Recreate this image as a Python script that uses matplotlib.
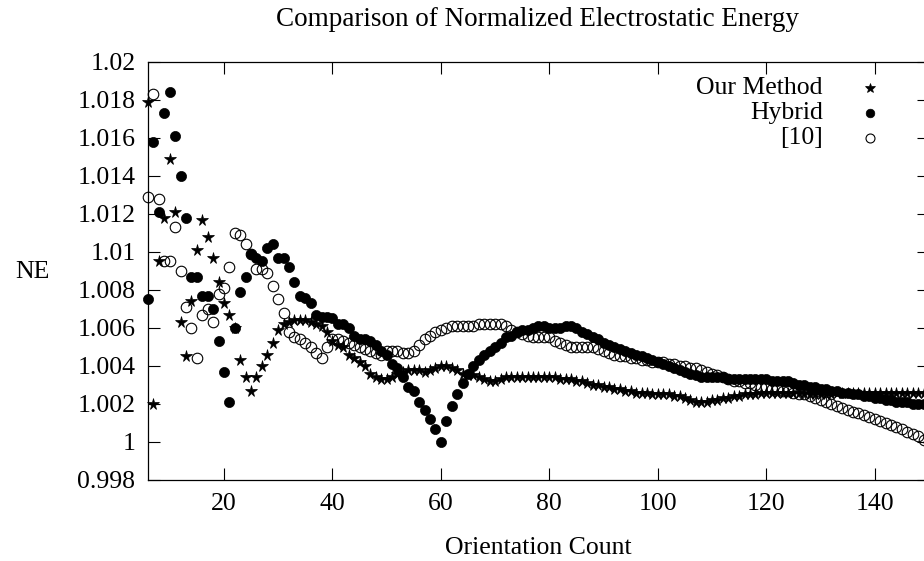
import matplotlib
matplotlib.use('Agg')
import matplotlib.pyplot as plt
from matplotlib.ticker import FuncFormatter

plt.rcParams['font.family'] = ['Liberation Serif', 'DejaVu Serif']

# orientation counts 6..150
counts = list(range(6, 151))

our_method = [
    1.0179, 1.0020, 1.0095, 1.0118, 1.0149, 1.0121, 1.0063, 1.0045, 1.0074, 1.0101,
    1.0117, 1.0108, 1.0097, 1.0084, 1.0073, 1.0067, 1.0060, 1.0043, 1.0034, 1.0027,
    1.0034, 1.0040, 1.0046, 1.0052, 1.0059, 1.0062, 1.0063, 1.0064, 1.0064, 1.0064,
    1.0063, 1.0062, 1.0061, 1.0058, 1.0053, 1.0051, 1.0050, 1.0046, 1.0044, 1.0042,
    1.0040, 1.0036, 1.0034, 1.0033, 1.0033, 1.0034, 1.0036, 1.0037, 1.0038, 1.0038,
    1.0038, 1.0037, 1.0038, 1.0039, 1.0040, 1.0040, 1.0039, 1.0038, 1.0036, 1.0035,
    1.0035, 1.0034, 1.0033, 1.0032, 1.0032, 1.0033, 1.0034, 1.0034, 1.0034, 1.0034,
    1.0034, 1.0034, 1.0034, 1.0034, 1.0034, 1.0034, 1.0033, 1.0033, 1.0033, 1.0032,
    1.0032, 1.0031, 1.0030, 1.0030, 1.0029, 1.0029, 1.0028, 1.0028, 1.0027, 1.0027,
    1.0026, 1.0026, 1.0026, 1.0025, 1.0025, 1.0025, 1.0025, 1.0024, 1.0024, 1.0023,
    1.0022, 1.0021, 1.0021, 1.0021, 1.0022, 1.0022, 1.0023, 1.0023, 1.0024, 1.0024,
    1.0025, 1.0025, 1.0025, 1.0026, 1.0026, 1.0026, 1.0026, 1.0026, 1.0026, 1.0026,
    1.0026, 1.0026, 1.0025, 1.0025, 1.0025, 1.0025, 1.0025, 1.0026, 1.0026, 1.0026,
    1.0026, 1.0026, 1.0026, 1.0026, 1.0026, 1.0026, 1.0026, 1.0026, 1.0026, 1.0026,
    1.0026, 1.0026, 1.0026, 1.0026, 1.0026,
]

hybrid = [
    1.0075, 1.0158, 1.0121, 1.0173, 1.0184, 1.0161, 1.0140, 1.0118, 1.0087, 1.0087,
    1.0077, 1.0077, 1.0070, 1.0053, 1.0037, 1.0021, 1.0060, 1.0079, 1.0087, 1.0099,
    1.0097, 1.0095, 1.0102, 1.0104, 1.0097, 1.0097, 1.0092, 1.0084, 1.0077, 1.0076,
    1.0073, 1.0067, 1.0066, 1.0066, 1.0065, 1.0062, 1.0062, 1.0060, 1.0056, 1.0054,
    1.0054, 1.0053, 1.0051, 1.0048, 1.0046, 1.0041, 1.0039, 1.0034, 1.0029, 1.0027,
    1.0021, 1.0017, 1.0012, 1.0007, 1.0000, 1.0011, 1.0019, 1.0025, 1.0031, 1.0036,
    1.0040, 1.0043, 1.0046, 1.0048, 1.0050, 1.0052, 1.0055, 1.0056, 1.0058, 1.0059,
    1.0059, 1.0060, 1.0061, 1.0061, 1.0060, 1.0060, 1.0060, 1.0061, 1.0061, 1.0060,
    1.0058, 1.0057, 1.0055, 1.0054, 1.0052, 1.0051, 1.0050, 1.0049, 1.0048, 1.0047,
    1.0046, 1.0045, 1.0044, 1.0043, 1.0042, 1.0041, 1.0040, 1.0039, 1.0038, 1.0037,
    1.0036, 1.0035, 1.0034, 1.0034, 1.0034, 1.0034, 1.0034, 1.0033, 1.0033, 1.0033,
    1.0033, 1.0033, 1.0033, 1.0033, 1.0033, 1.0032, 1.0032, 1.0032, 1.0032, 1.0031,
    1.0030, 1.0030, 1.0029, 1.0029, 1.0028, 1.0028, 1.0027, 1.0027, 1.0026, 1.0026,
    1.0025, 1.0025, 1.0024, 1.0024, 1.0023, 1.0023, 1.0022, 1.0022, 1.0021, 1.0021,
    1.0021, 1.0020, 1.0020, 1.0020, 1.0020,
]

ref10 = [
    1.0129, 1.0183, 1.0128, 1.0095, 1.0095, 1.0113, 1.0090, 1.0071, 1.0060, 1.0044,
    1.0067, 1.0070, 1.0063, 1.0078, 1.0081, 1.0092, 1.0110, 1.0109, 1.0104, 1.0099,
    1.0091, 1.0091, 1.0089, 1.0082, 1.0075, 1.0068, 1.0058, 1.0055, 1.0054, 1.0052,
    1.0050, 1.0047, 1.0044, 1.0050, 1.0054, 1.0054, 1.0053, 1.0052, 1.0051, 1.0050,
    1.0049, 1.0048, 1.0047, 1.0046, 1.0048, 1.0048, 1.0048, 1.0047, 1.0047, 1.0048,
    1.0051, 1.0054, 1.0056, 1.0058, 1.0059, 1.0060, 1.0061, 1.0061, 1.0061, 1.0061,
    1.0061, 1.0062, 1.0062, 1.0062, 1.0062, 1.0062, 1.0061, 1.0059, 1.0058, 1.0057,
    1.0056, 1.0055, 1.0055, 1.0055, 1.0055, 1.0053, 1.0052, 1.0051, 1.0050, 1.0050,
    1.0050, 1.0050, 1.0050, 1.0049, 1.0048, 1.0047, 1.0046, 1.0045, 1.0045, 1.0044,
    1.0044, 1.0043, 1.0043, 1.0042, 1.0042, 1.0042, 1.0041, 1.0041, 1.0040, 1.0040,
    1.0039, 1.0039, 1.0038, 1.0037, 1.0036, 1.0035, 1.0034, 1.0033, 1.0032, 1.0032,
    1.0031, 1.0031, 1.0030, 1.0029, 1.0029, 1.0028, 1.0028, 1.0027, 1.0027, 1.0026,
    1.0025, 1.0025, 1.0024, 1.0023, 1.0022, 1.0021, 1.0020, 1.0019, 1.0018, 1.0017,
    1.0016, 1.0015, 1.0014, 1.0013, 1.0012, 1.0011, 1.0010, 1.0009, 1.0008, 1.0007,
    1.0005, 1.0004, 1.0003, 1.0001, 1.0000,
]

labels = ['Our Method', 'Hybrid', '[10]']
xticks = [20, 40, 60, 80, 100, 120, 140]
yticks = [0.998, 1.0, 1.002, 1.004, 1.006, 1.008, 1.01, 1.012, 1.014, 1.016, 1.018, 1.02]

FS = 18.5

fig = plt.figure(figsize=(9.24, 5.61), dpi=100)
ax = fig.add_axes([148 / 924, 1 - 480 / 561, (929 - 148) / 924, (480 - 62) / 561])

styles = [
    dict(marker='*', ms=8.5, mfc='black', mec='black', mew=0.5),
    dict(marker='o', ms=7.3, mfc='black', mec='black', mew=0.5),
    dict(marker='o', ms=7.6, mfc='none', mec='black', mew=0.8),
]
for ys, st in zip([our_method, hybrid, ref10], styles):
    ax.plot(counts, ys, ls='none', clip_on=False, **st)

ax.set_xlim(6, 150)
ax.set_ylim(0.998, 1.02)
ax.set_xticks(xticks)
ax.set_yticks(yticks)
ax.yaxis.set_major_formatter(FuncFormatter(lambda v, p: '%g' % round(v, 4)))
ax.tick_params(direction='in', length=8.6, width=0.8, top=True, right=True,
               labelsize=FS, pad=9)
for s in ax.spines.values():
    s.set_linewidth(0.9)

fig.text(538 / 924, 1 - 20 / 561, 'Comparison of Normalized Electrostatic Energy',
         ha='center', va='center', fontsize=19.5)
fig.text(32 / 924, 1 - 272 / 561, 'NE', ha='center', va='center', fontsize=FS)
fig.text(538 / 924, 1 - 548 / 561, 'Orientation Count', ha='center', va='center',
         fontsize=FS)

# key, top right
key_y = [88, 113, 138]
for lab, st, yy in zip(labels, styles, key_y):
    fy = 1 - yy / 561
    fig.text(823 / 924, fy, lab, ha='right', va='center', fontsize=FS)
    st2 = dict(st)
    st2['ms'] = st['ms'] * 0.85
    fig.add_artist(plt.Line2D([870 / 924], [fy], transform=fig.transFigure,
                              ls='none', **st2))

fig.savefig('out.png', dpi=100)
